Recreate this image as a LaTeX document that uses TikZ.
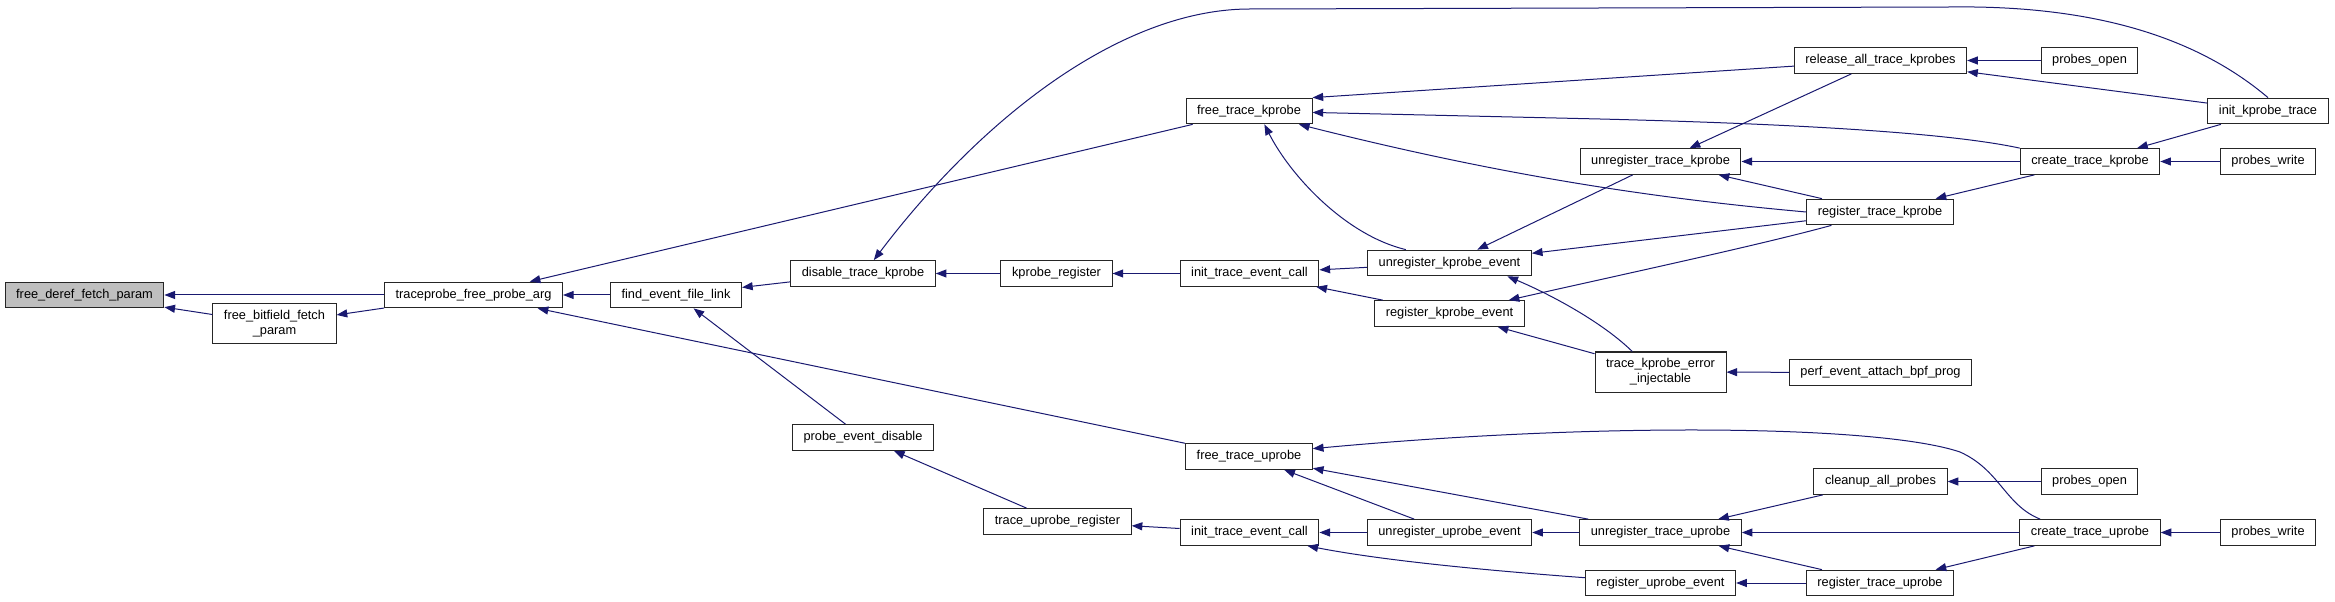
\documentclass[tikz,border=0pt]{standalone}
\usepackage{fontspec}
\setmainfont{Liberation Sans}
\usetikzlibrary{arrows.meta}
\definecolor{navy}{HTML}{191970}
\tikzset{
  fn/.style={draw=black!85, fill=white, line width=0.75pt, font=\fontsize{9.6}{11.25}\selectfont,
    inner xsep=8.3pt, inner ysep=0pt, minimum height=19.3pt},
  fnsel/.style={fn, fill=black!25},
  fn2/.style={fn, align=center, minimum height=30pt},
  call/.style={draw=navy, line width=0.75pt, -{Triangle[length=8pt,width=6pt]}},
}
\begin{document}
\begin{tikzpicture}[x=0.75pt,y=-0.75pt]
  \useasboundingbox (0,0) rectangle (2335,602);

  % left part
  \node[fnsel] (fdfp) at (84.5,295) {free\_deref\_fetch\_param};
  \node[fn2] (fbfp) at (274.5,324) {free\_bitfield\_fetch\\\_param};
  \node[fn] (tfpa) at (473.5,295) {traceprobe\_free\_probe\_arg};
  \node[fn] (fefl) at (676,295) {find\_event\_file\_link};
  \node[fn] (dtk) at (863,273.5) {disable\_trace\_kprobe};
  \node[fn] (ped) at (863,437.5) {probe\_event\_disable};
  \node[fn] (kr) at (1056.5,273.5) {kprobe\_register};
  \node[fn] (tur) at (1057.5,521.5) {trace\_uprobe\_register};

  % kprobe side
  \node[fn] (ftk) at (1249,111) {free\_trace\_kprobe};
  \node[fn] (itec1) at (1249.5,273.5) {init\_trace\_event\_call};
  \node[fn] (uke) at (1449.5,263) {unregister\_kprobe\_event};
  \node[fn] (rke) at (1449.5,313.5) {register\_kprobe\_event};
  \node[fn] (utk) at (1660.5,161.5) {unregister\_trace\_kprobe};
  \node[fn2] (tkei) at (1660.5,372) {trace\_kprobe\_error\\\_injectable};
  \node[fn] (ralltk) at (1880.5,60.5) {release\_all\_trace\_kprobes};
  \node[fn] (rtk) at (1880,212) {register\_trace\_kprobe};
  \node[fn] (peabp) at (1880.5,372.5) {perf\_event\_attach\_bpf\_prog};
  \node[fn] (po1) at (2089.5,60.5) {probes\_open};
  \node[fn] (ctk) at (2090,161.5) {create\_trace\_kprobe};
  \node[fn] (ikt) at (2268,111) {init\_kprobe\_trace};
  \node[fn] (pw1) at (2268,161.5) {probes\_write};

  % uprobe side
  \node[fn] (ftu) at (1249,456.5) {free\_trace\_uprobe};
  \node[fn] (itec2) at (1249.5,532.5) {init\_trace\_event\_call};
  \node[fn] (uue) at (1449.5,532.5) {unregister\_uprobe\_event};
  \node[fn] (utu) at (1660.5,532.5) {unregister\_trace\_uprobe};
  \node[fn] (rue) at (1660.5,583) {register\_uprobe\_event};
  \node[fn] (cap) at (1880.5,481.5) {cleanup\_all\_probes};
  \node[fn] (rtu) at (1880,583) {register\_trace\_uprobe};
  \node[fn] (po2) at (2089.5,481.5) {probes\_open};
  \node[fn] (ctu) at (2090,532.5) {create\_trace\_uprobe};
  \node[fn] (pw2) at (2268,532.5) {probes\_write};

  % calls, arrow at the callee
  \draw[call] (tfpa) -- (fdfp);
  \draw[call] (fbfp) -- (fdfp);
  \draw[call] (tfpa) -- (fbfp);
  \draw[call] (fefl) -- (tfpa);
  \draw[call] (ftk) -- (tfpa);
  \draw[call] (ftu) -- (tfpa);
  \draw[call] (dtk) -- (fefl);
  \draw[call] (ped) -- (fefl);
  \draw[call] (kr) -- (dtk);
  \draw[call] (ikt.north) .. controls (2200,40) and (2100,5) .. (1950,7) -- (1250,9)
    .. controls (1120,9) and (980,120) .. (dtk.51);
  \draw[call] (itec1) -- (kr);
  \draw[call] (uke) -- (itec1);
  \draw[call] (rke) -- (itec1);
  \draw[call] (ralltk) -- (ftk.north east);
  \draw[call] (ctk.north west) .. controls (1950,133) and (1800,124) .. (1600,119) -- (ftk);
  \draw[call] (rtk.west) .. controls (1650,198) and (1500,175) .. (ftk.-15);
  \draw[call] (uke.163) .. controls (1345,235) and (1290,175) .. (ftk.-41);
  \draw[call] (utk) -- (uke);
  \draw[call] (rtk) -- (uke);
  \draw[call] (rtk) .. controls (1760,245) and (1620,275) .. (rke);
  \draw[call] (tkei) -- (rke);
  \draw[call] (tkei.144) .. controls (1600,320) and (1545,292) .. (uke.-13);
  \draw[call] (ralltk) -- (utk);
  \draw[call] (ctk) -- (utk);
  \draw[call] (rtk) -- (utk);
  \draw[call] (po1) -- (ralltk);
  \draw[call] (ikt) -- (ralltk);
  \draw[call] (ikt) -- (ctk);
  \draw[call] (pw1) -- (ctk);
  \draw[call] (ctk) -- (rtk);
  \draw[call] (peabp) -- (tkei);
  \draw[call] (tur) -- (ped);
  \draw[call] (itec2) -- (tur);
  \draw[call] (uue) -- (itec2);
  \draw[call] (rue.176) .. controls (1480,570) and (1380,560) .. (itec2.-13);
  \draw[call] (uue) -- (ftu);
  \draw[call] (utu) -- (ftu);
  \draw[call] (ctu.165) .. controls (2005,505) and (2000,470) .. (1960,452)
    .. controls (1880,425) and (1600,422) .. (ftu.7);
  \draw[call] (utu) -- (uue);
  \draw[call] (cap) -- (utu);
  \draw[call] (ctu) -- (utu);
  \draw[call] (rtu) -- (utu);
  \draw[call] (po2) -- (cap);
  \draw[call] (pw2) -- (ctu);
  \draw[call] (ctu) -- (rtu);
  \draw[call] (rtu) -- (rue);
\end{tikzpicture}
\end{document}
